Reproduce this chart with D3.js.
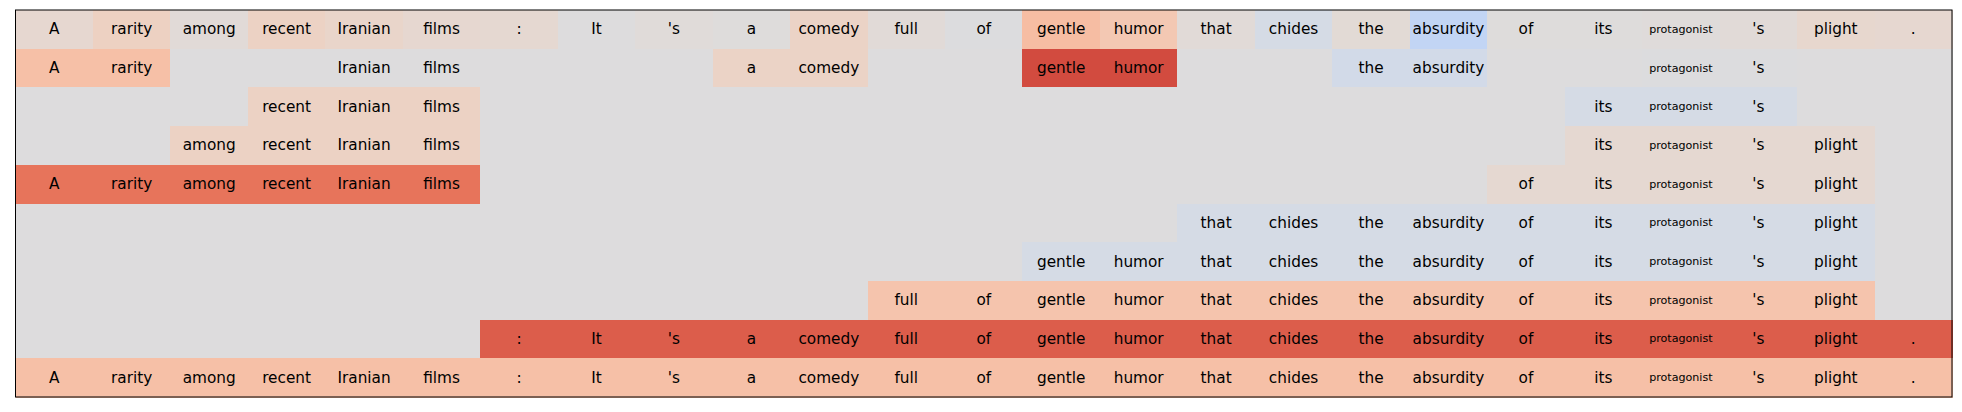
<!DOCTYPE html>
<html>
<head>
<meta charset="utf-8">
<script src="https://cdn.jsdelivr.net/npm/d3@7"></script>
<style>
  html, body { margin: 0; padding: 0; background: #ffffff; }
  svg { display: block; }
</style>
</head>
<body>
<svg id="chart" width="1962" height="412"></svg>
<script>
// ---- data ----
const tokens = ["A", "rarity", "among", "recent", "Iranian", "films", ":", "It", "'s", "a", "comedy",
  "full", "of", "gentle", "humor", "that", "chides", "the", "absurdity", "of", "its", "protagonist", "'s", "plight", "."];

const rowIds = [0, 1, 2, 3, 4, 5, 6, 7, 8, 9];

const N = null;
// value per token for each row (null = token not part of this row's phrase)
const row0 = [0.07, 0.14, 0.03, 0.13, 0.10, 0.07, 0.06, 0.0, 0.02, 0.01, 0.12, 0.03, -0.01, 0.30, 0.22, 0.03, -0.06, 0.04, -0.19, 0.01, 0.01, 0.015, 0.03, 0.08, 0.07];
const row1 = [0.28, 0.28, N, N, 0.0, 0.0, N, N, N, 0.12, 0.12, N, N, 0.83, 0.83, N, N, -0.08, -0.08, N, N, -0.01, -0.01, N, N];
const row2 = [N, N, N, 0.13, 0.13, 0.13, N, N, N, N, N, N, N, N, N, N, N, N, N, N, -0.06, -0.06, -0.06, N, N];
const row3 = [N, N, 0.13, 0.13, 0.13, 0.13, N, N, N, N, N, N, N, N, N, N, N, N, N, N, 0.06, 0.06, 0.06, 0.06, N];
const row4 = [0.67, 0.67, 0.67, 0.67, 0.67, 0.67, N, N, N, N, N, N, N, N, N, N, N, N, N, 0.06, 0.06, 0.06, 0.06, 0.06, N];
const row5 = [N, N, N, N, N, N, N, N, N, N, N, N, N, N, N, -0.06, -0.06, -0.06, -0.06, -0.06, -0.06, -0.06, -0.06, -0.06, N];
const row6 = [N, N, N, N, N, N, N, N, N, N, N, N, N, -0.06, -0.06, -0.06, -0.06, -0.06, -0.06, -0.06, -0.06, -0.06, -0.06, -0.06, N];
const row7 = [N, N, N, N, N, N, N, N, N, N, N, 0.25, 0.25, 0.25, 0.25, 0.25, 0.25, 0.25, 0.25, 0.25, 0.25, 0.25, 0.25, 0.25, N];
const row8 = [N, N, N, N, N, N, 0.76, 0.76, 0.76, 0.76, 0.76, 0.76, 0.76, 0.76, 0.76, 0.76, 0.76, 0.76, 0.76, 0.76, 0.76, 0.76, 0.76, 0.76, 0.76];
const row9 = [0.28, 0.28, 0.28, 0.28, 0.28, 0.28, 0.28, 0.28, 0.28, 0.28, 0.28, 0.28, 0.28, 0.28, 0.28, 0.28, 0.28, 0.28, 0.28, 0.28, 0.28, 0.28, 0.28, 0.28, 0.28];
const rows = [row0, row1, row2, row3, row4, row5, row6, row7, row8, row9];

// ---- colour map (cool-warm diverging) ----
const coolwarmStops = [
  [59,76,192],[68,90,204],[77,104,215],[87,117,225],[98,130,234],[108,142,241],[119,154,247],[130,165,251],
  [141,176,254],[152,185,255],[163,194,255],[174,201,253],[184,208,249],[194,213,244],[204,217,238],[213,219,230],
  [221,221,221],[229,216,209],[236,211,197],[241,204,185],[245,196,173],[247,187,160],[247,177,148],[247,166,135],
  [244,154,123],[241,141,111],[236,127,99],[229,112,88],[222,96,77],[213,80,66],[203,62,56],[192,40,47],[180,4,38]
].map(c => d3.rgb(c[0], c[1], c[2]).toString());
const coolwarm = d3.interpolateRgbBasis(coolwarmStops);
const color = d3.scaleSequential([-1, 1], coolwarm);

// ---- layout ----
const plotL = 15.5, plotR = 1952, plotT = 10, plotB = 397;
const svg = d3.select("#chart");
svg.append("rect").attr("width", 1962).attr("height", 412).attr("fill", "#ffffff");

const x = d3.scaleBand().domain(d3.range(tokens.length)).range([plotL, plotR]).paddingInner(0).paddingOuter(0);
const y = d3.scaleBand().domain(rowIds).range([plotT, plotB]).paddingInner(0).paddingOuter(0);

const cells = [];
rows.forEach((r, ri) => {
  r.forEach((v, ci) => {
    cells.push({ row: ri, col: ci, value: v, token: tokens[ci] });
  });
});

const g = svg.append("g");
g.selectAll("rect.cell")
  .data(cells)
  .join("rect")
  .attr("class", "cell")
  .attr("x", d => x(d.col))
  .attr("y", d => y(d.row))
  .attr("width", x.bandwidth() + 0.6)
  .attr("height", y.bandwidth() + 0.6)
  .attr("shape-rendering", "crispEdges")
  .attr("fill", d => color(d.value === null ? 0 : d.value));

g.selectAll("text.lbl")
  .data(cells.filter(d => d.value !== null))
  .join("text")
  .attr("class", "lbl")
  .attr("x", d => x(d.col) + x.bandwidth() / 2)
  .attr("y", d => y(d.row) + y.bandwidth() / 2)
  .attr("text-anchor", "middle")
  .attr("dominant-baseline", "central")
  .attr("font-family", "DejaVu Sans, sans-serif")
  .attr("font-size", d => d.token.length > 10 ? 11.1 : 15.3)
  .attr("fill", "#000000")
  .text(d => d.token);

// frame
svg.append("rect")
  .attr("x", plotL)
  .attr("y", plotT)
  .attr("width", plotR - plotL)
  .attr("height", plotB - plotT)
  .attr("fill", "none")
  .attr("stroke", "#000000")
  .attr("stroke-width", 1);
</script>
</body>
</html>
